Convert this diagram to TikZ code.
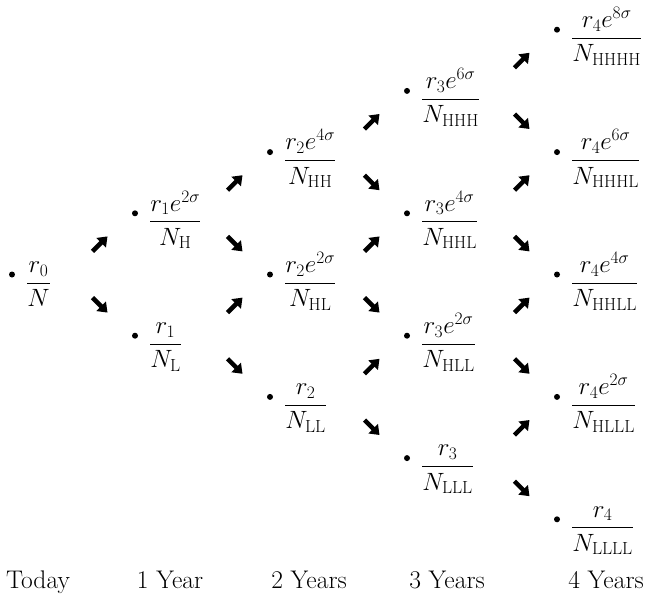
\RequirePackage{fix-cm}
\documentclass[tikz,border=0pt]{standalone}
\usepackage{amsmath}
\usetikzlibrary{calc,arrows.meta}
\tikzset{
  dot/.style={circle,fill=black,inner sep=0pt,minimum size=6pt},
  fracnode/.style={anchor=base west,inner sep=0pt,font=\fontsize{25}{30}\selectfont},
  fatarrow/.style={line width=4.5pt,-{Triangle[length=9pt,width=13pt]}},
  yearlab/.style={anchor=base,inner sep=0pt,font=\fontsize{25.5}{30}\selectfont}
}
\newcommand\treept[5]{%
  \node[dot] (#1) at (#2,#3) {};
  \node[fracnode] (#1f) at ($(#1)+(14,14.75)$) {$\dfrac{#4}{#5}$};}
\newcommand\arwcenter[2]{%
  \coordinate (cx) at ($(#2)+(-35,0)$);
  \coordinate (cy) at ($(#1)!0.5!(#2)$);
  \coordinate (c) at (cx |- cy);}
\newcommand\uparw[2]{%
  \arwcenter{#1}{#2}%
  \draw[fatarrow] ($(c)+(-7.5,7.5)$) -- ($(c)+(7.5,-7.5)$);}
\newcommand\dnarw[2]{%
  \arwcenter{#1}{#2}%
  \draw[fatarrow] ($(c)+(-7.5,-7.5)$) -- ($(c)+(7.5,7.5)$);}
\begin{document}
\begin{tikzpicture}[x=1pt,y=-1pt]
\useasboundingbox (0,0) rectangle (651,598);
% today
\treept{n0}{12}{274.5}{r_0}{N}
% 1 year
\treept{nH}{135}{213.3}{r_1e^{2\sigma}}{N_{\mathrm{H}}}
\treept{nL}{135}{335.7}{r_1}{N_{\mathrm{L}}}
% 2 years
\treept{nHH}{270}{152.1}{r_2e^{4\sigma}}{N_{\mathrm{HH}}}
\treept{nHL}{270}{274.5}{r_2e^{2\sigma}}{N_{\mathrm{HL}}}
\treept{nLL}{270}{396.9}{r_2}{N_{\mathrm{LL}}}
% 3 years
\treept{nHHH}{407}{90.9}{r_3e^{6\sigma}}{N_{\mathrm{HHH}}}
\treept{nHHL}{407}{213.3}{r_3e^{4\sigma}}{N_{\mathrm{HHL}}}
\treept{nHLL}{407}{335.7}{r_3e^{2\sigma}}{N_{\mathrm{HLL}}}
\treept{nLLL}{407}{458.1}{r_3}{N_{\mathrm{LLL}}}
% 4 years
\treept{nHHHH}{557}{29.7}{r_4e^{8\sigma}}{N_{\mathrm{HHHH}}}
\treept{nHHHL}{557}{152.1}{r_4e^{6\sigma}}{N_{\mathrm{HHHL}}}
\treept{nHHLL}{557}{274.5}{r_4e^{4\sigma}}{N_{\mathrm{HHLL}}}
\treept{nHLLL}{557}{396.9}{r_4e^{2\sigma}}{N_{\mathrm{HLLL}}}
\treept{nLLLL}{557}{519.3}{r_4}{N_{\mathrm{LLLL}}}
% arrows
\uparw{n0}{nH}   \dnarw{n0}{nL}
\uparw{nH}{nHH}  \dnarw{nH}{nHL}
\uparw{nL}{nHL}  \dnarw{nL}{nLL}
\uparw{nHH}{nHHH} \dnarw{nHH}{nHHL}
\uparw{nHL}{nHHL} \dnarw{nHL}{nHLL}
\uparw{nLL}{nHLL} \dnarw{nLL}{nLLL}
\uparw{nHHH}{nHHHH} \dnarw{nHHH}{nHHHL}
\uparw{nHHL}{nHHHL} \dnarw{nHHL}{nHHLL}
\uparw{nHLL}{nHHLL} \dnarw{nHLL}{nHLLL}
\uparw{nLLL}{nHLLL} \dnarw{nLLL}{nLLLL}
% labels
\node[yearlab] (y0) at (38,588) {Today};
\node[yearlab] (y1) at (170,588) {1 Year};
\node[yearlab] (y2) at (309,588) {2 Years};
\node[yearlab] (y3) at (447,588) {3 Years};
\node[yearlab] (y4) at (606,588) {4 Years};
\end{tikzpicture}
\end{document}
